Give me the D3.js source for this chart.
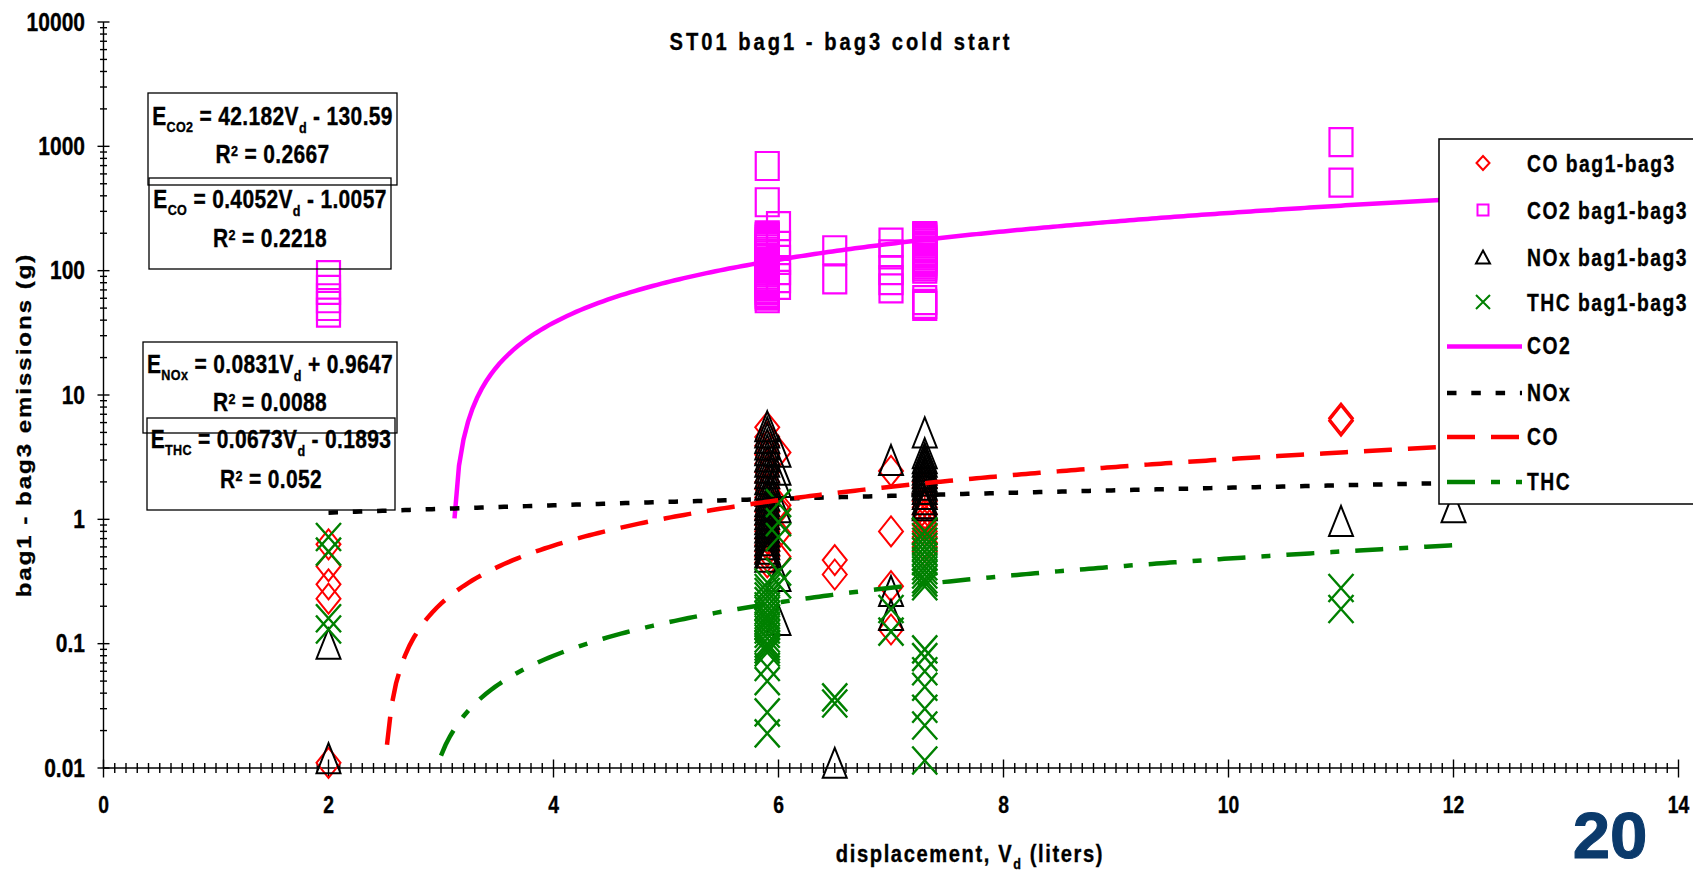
<!DOCTYPE html>
<html>
<head>
<meta charset="utf-8">
<script src="https://cdn.jsdelivr.net/npm/d3@7"></script>
<style>
  html, body { margin: 0; padding: 0; background: #fff; }
  svg { display: block; }
</style>
</head>
<body>
<svg id="chart" width="1693" height="872"></svg>
<script>
// ---------------- data ----------------
const xTicks = [0, 2, 4, 6, 8, 10, 12, 14];
const yTicks = [0.01, 0.1, 1, 10, 100, 1000, 10000];
const yTickLabels = ["0.01", "0.1", "1", "10", "100", "1000", "10000"];

// bag1-bag3 emissions (g) by engine displacement (liters): [displacement, [values]]
const coBag = [
  [2,   [0.63, 0.42, 0.3, 0.23, 0.011]],
  [5.9, [5.5, 4.6, 3.9, 3.3, 2.8, 2.4, 2.0, 1.75, 1.5, 1.3, 1.15, 1.0, 0.9, 0.8, 0.7, 0.62, 0.55, 0.5, 0.45]],
  [6.0, [3.45, 1.3, 1.2, 0.77, 0.5]],
  [6.5, [0.47, 0.36]],
  [7.0, [2.45, 0.8, 0.29, 0.13]],
  [7.3, [2.0, 1.8, 1.6, 1.4, 1.25, 1.1, 1.0, 0.9, 0.8, 0.72, 0.65, 0.6, 0.55]],
  [11,  [6.5, 6.2]]
];
const co2Bag = [
  [2,   [92, 70, 60, 52, 46]],
  [5.9, [695, 355, 192, 186, 181, 176, 170, 164, 158, 153, 148, 142, 137, 133, 128, 124, 119, 115, 111, 107,
         104, 100, 97, 93, 90, 87, 84, 81, 78, 75, 72, 70, 67, 65, 63, 60]],
  [6.0, [228, 158, 122, 101, 87, 77]],
  [6.5, [146, 85]],
  [7.0, [168, 135, 101, 84, 72]],
  [7.3, [190, 186, 181, 176, 171, 166, 160, 155, 151, 146, 141, 137, 133, 128, 124, 120, 116, 112, 108, 104,
         58, 54, 52]],
  [11,  [1080, 510]]
];
const noxBag = [
  [2,   [0.1, 0.012]],
  [5.9, [5.6, 5.0, 4.5, 4.0, 3.6, 3.2, 2.9, 2.6, 2.35, 2.1, 1.9, 1.7, 1.55, 1.4, 1.3, 1.2, 1.1, 1.0, 0.93, 0.86, 0.8, 0.74, 0.68, 0.63, 0.58, 0.54, 0.5]],
  [6.0, [3.5, 2.5, 2.0, 1.25, 0.35, 0.155]],
  [6.5, [0.011]],
  [7.0, [3.0, 0.265, 0.17]],
  [7.3, [5.0, 3.4, 3.1, 2.9, 2.7, 2.5, 2.35, 2.2, 2.05, 1.9, 1.75, 1.6, 1.45, 1.35, 1.3]],
  [11,  [0.97]],
  [12,  [1.25]]
];
const thcBag = [
  [2,   [0.72, 0.55, 0.16, 0.13]],
  [5.9, [0.31, 0.28, 0.26, 0.24, 0.22, 0.2, 0.185, 0.17, 0.16, 0.15, 0.14, 0.13, 0.12, 0.11, 0.1, 0.095, 0.09, 0.085, 0.065, 0.05, 0.028, 0.019]],
  [6.0, [1.35, 0.95, 0.72, 0.38, 0.3]],
  [6.5, [0.037, 0.033]],
  [7.0, [0.19, 0.125]],
  [7.3, [0.8, 0.72, 0.66, 0.6, 0.55, 0.5, 0.46, 0.42, 0.39, 0.36, 0.33, 0.31, 0.29, 0.09, 0.078, 0.06, 0.045, 0.03, 0.022, 0.0115]],
  [11,  [0.28, 0.19]]
];

// linear fits E = a*Vd + b
const fitNames = ["CO2", "CO", "NOx", "THC"];
const fitSlope = [42.182, 0.4052, 0.0831, 0.0673];
const fitIntercept = [-130.59, -1.0057, 0.9647, -0.1893];
const fitR2 = [0.2667, 0.2218, 0.0088, 0.052];
const fitRange = [2, 12];

// ---------------- layout ----------------
const FONT = "'Liberation Sans', Arial, Helvetica, sans-serif";
const SX = 0.84; // horizontal squeeze of lettering
const svg = d3.select("#chart");
svg.append("rect").attr("width", 1693).attr("height", 872).attr("fill", "#fff");

const x = d3.scaleLinear().domain([0, 14]).range([103.5, 1678.5]);
const y = d3.scaleLog().domain([0.01, 10000]).range([768, 22]);

function label(parent, px, py, o) {
  const sx = o.sx == null ? SX : o.sx;
  let tf = `translate(${px},${py}) scale(${sx},1)`;
  if (o.rotate) tf += ` rotate(${o.rotate})`;
  const g = parent.append("g").attr("transform", tf);
  const fill = o.fill || "#000";
  const t = g.append("text")
    .attr("text-anchor", o.anchor || "middle")
    .attr("font-family", FONT)
    .attr("font-weight", "bold")
    .attr("font-size", o.size)
    .attr("fill", fill)
    .attr("stroke", fill)
    .attr("stroke-width", o.weight == null ? 0.35 : o.weight)
    .attr("letter-spacing", o.spacing || 0);
  (o.parts || [{ t: o.text }]).forEach(p => {
    const s = t.append("tspan").text(p.t);
    if (p.size) s.attr("font-size", p.size);
    if (p.dy) s.attr("dy", p.dy);
  });
  return t;
}

// ---------------- axes ----------------
const axis = svg.append("g").attr("stroke", "#000").attr("stroke-width", 1.4);
const x0 = x(0), yb = y(0.01);
axis.append("line").attr("x1", x0).attr("x2", x0).attr("y1", y(10000)).attr("y2", yb);
axis.append("line").attr("x1", x0).attr("x2", x(14)).attr("y1", yb).attr("y2", yb);

// y ticks: decades and 2..9 minors
const yMinor = [];
yTicks.slice(0, -1).forEach(d => { for (let k = 2; k <= 9; k++) yMinor.push(d * k); });
axis.selectAll(".ymaj").data(yTicks).join("line")
  .attr("x1", x0 - 6).attr("x2", x0 + 6).attr("y1", d => y(d)).attr("y2", d => y(d));
axis.selectAll(".ymin").data(yMinor).join("line")
  .attr("x1", x0 - 3.5).attr("x2", x0 + 3.5).attr("y1", d => y(d)).attr("y2", d => y(d));

// x ticks: every 0.1, longer at the labelled values
const xMinor = d3.range(0, 141).map(i => i / 10).filter(v => !xTicks.includes(v));
axis.selectAll(".xmin").data(xMinor).join("line")
  .attr("x1", d => x(d)).attr("x2", d => x(d)).attr("y1", yb - 5).attr("y2", yb + 5);
axis.selectAll(".xmaj").data(xTicks).join("line")
  .attr("x1", d => x(d)).attr("x2", d => x(d)).attr("y1", yb - 8.5).attr("y2", yb + 9.5);

const lab = svg.append("g");
yTicks.forEach((v, i) => label(lab, 85, y(v) + 8.5, { text: yTickLabels[i], size: 25, anchor: "end" }));
xTicks.forEach(v => label(lab, x(v), 813, { text: String(v), size: 23 }));

// titles
label(lab, 841, 50, { text: "ST01 bag1 - bag3 cold start", size: 24, spacing: 3 / SX });
label(lab, 31, 425, { text: "bag1 - bag3 emissions (g)", size: 24, rotate: -90, spacing: 2 });
label(lab, 970, 862, { size: 24, spacing: 1.6 / SX, parts: [
  { t: "displacement, V" }, { t: "d", size: 15, dy: 7 }, { t: " (liters)", dy: -7 }
]});
// slide number
label(lab, 1610, 858, { text: "20", size: 64, sx: 1.05, fill: "#0b3a6b", weight: 1 });

// ---------------- markers ----------------
const flat = arr => arr.flatMap(([vd, vals]) => vals.map(v => ({ vd, v })));

const shapes = {
  diamond: (w, h) => `M0,${-h}L${w},0L0,${h}L${-w},0Z`,
  square: (w, h) => `M${-w},${-h}H${w}V${h}H${-w}Z`,
  triangle: (w, h) => `M0,${-h}L${w},${h}L${-w},${h}Z`,
  cross: (w, h) => `M${-w},${-h}L${w},${h}M${-w},${h}L${w},${-h}`
};

const markerSeries = [
  { name: "CO bag1-bag3",  data: coBag,  shape: "diamond",  color: "#ff0000", sw: 2.0, w: 12, h: 15, lw: 6.5, lh: 7 },
  { name: "CO2 bag1-bag3", data: co2Bag, shape: "square",   color: "#ff00ff", sw: 2.2, w: 11.5, h: 14, lw: 5.5, lh: 5.5 },
  { name: "NOx bag1-bag3", data: noxBag, shape: "triangle", color: "#000000", sw: 2.0, w: 12, h: 15, lw: 7, lh: 6.5 },
  { name: "THC bag1-bag3", data: thcBag, shape: "cross",    color: "#008000", sw: 2.4, w: 12.5, h: 14, lw: 7, lh: 7 }
];

const marks = svg.append("g");
markerSeries.forEach(s => {
  marks.append("g").selectAll("path").data(flat(s.data)).join("path")
    .attr("transform", d => `translate(${x(d.vd)},${y(d.v)})`)
    .attr("d", shapes[s.shape](s.w, s.h))
    .attr("fill", "none").attr("stroke", s.color).attr("stroke-width", s.sw);
});

// ---------------- trendlines ----------------
const lineSeries = [
  { name: "CO2", fit: 0, color: "#ff00ff", dash: null },
  { name: "NOx", fit: 2, color: "#000000", dash: "9.5,14.8" },
  { name: "CO",  fit: 1, color: "#ff0000", dash: "28,16" },
  { name: "THC", fit: 3, color: "#008000", dash: "28,16,9,16" }
];
const vdSteps = d3.range(fitRange[0], fitRange[1] + 1e-9, 0.04);
const trend = d3.line().defined(d => d.v >= 0.01).x(d => x(d.vd)).y(d => y(d.v));
const trendG = svg.append("g");
lineSeries.forEach(s => {
  const pts = vdSteps.map(vd => ({ vd, v: fitSlope[s.fit] * vd + fitIntercept[s.fit] }));
  trendG.append("path").attr("d", trend(pts))
    .attr("fill", "none").attr("stroke", s.color).attr("stroke-width", 4.5)
    .attr("stroke-dasharray", s.dash);
});

// ---------------- fit equation boxes ----------------
const eqBoxes = [
  { x: 148, y: 93,  w: 249, h: 92, b1: 125, b2: 163 },
  { x: 149, y: 178, w: 242, h: 91, b1: 208, b2: 247 },
  { x: 143, y: 342, w: 254, h: 91, b1: 373, b2: 411 },
  { x: 147, y: 418, w: 248, h: 92, b1: 448, b2: 488 }
];
const eqG = svg.append("g");
fitNames.forEach((n, i) => {
  const b = eqBoxes[i];
  eqG.append("rect").attr("x", b.x).attr("y", b.y).attr("width", b.w).attr("height", b.h)
    .attr("fill", "none").attr("stroke", "#000").attr("stroke-width", 1.3);
  const cx = b.x + b.w / 2;
  const sign = fitIntercept[i] < 0 ? " - " : " + ";
  label(eqG, cx, b.b1, { size: 25, spacing: 0.4, parts: [
    { t: "E" }, { t: n, size: 15, dy: 7 },
    { t: ` = ${fitSlope[i]}V`, dy: -7 }, { t: "d", size: 15, dy: 8 },
    { t: `${sign}${Math.abs(fitIntercept[i])}`, dy: -8 }
  ]});
  label(eqG, cx, b.b2, { size: 25, spacing: 0.4, parts: [
    { t: "R" }, { t: "2", size: 15, dy: -7 }, { t: ` = ${fitR2[i]}`, dy: 7 }
  ]});
});

// ---------------- legend ----------------
const leg = svg.append("g");
leg.append("rect").attr("x", 1439).attr("y", 139).attr("width", 300).attr("height", 365)
  .attr("fill", "#fff").attr("stroke", "#000").attr("stroke-width", 1.5);
const legRows = [163, 210, 257, 302, 346.5, 393, 437, 482];
markerSeries.forEach((s, i) => {
  const cy = legRows[i];
  leg.append("path").attr("transform", `translate(1483,${cy})`)
    .attr("d", shapes[s.shape](s.lw, s.lh))
    .attr("fill", "none").attr("stroke", s.color).attr("stroke-width", 2);
  label(leg, 1527, cy + 8.5, { text: s.name, size: 23, anchor: "start", spacing: 1.5 / SX });
});
lineSeries.forEach((s, i) => {
  const cy = legRows[4 + i];
  leg.append("line").attr("x1", 1447).attr("x2", 1522).attr("y1", cy).attr("y2", cy)
    .attr("stroke", s.color).attr("stroke-width", 4.5).attr("stroke-dasharray", s.dash);
  label(leg, 1527, cy + 7.5, { text: s.name, size: 23, anchor: "start", spacing: 1.5 / SX });
});
</script>
</body>
</html>
